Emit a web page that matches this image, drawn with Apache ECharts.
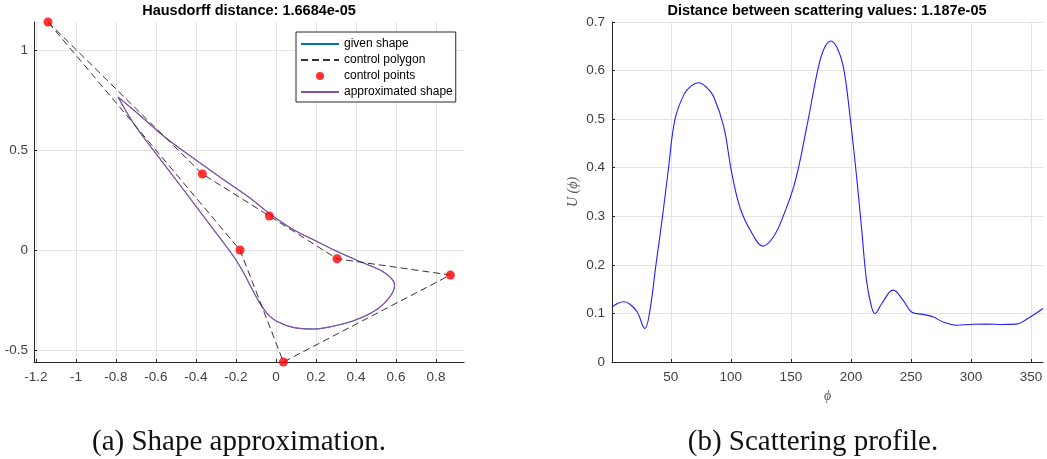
<!DOCTYPE html>
<html><head><meta charset="utf-8">
<script src="https://cdn.jsdelivr.net/npm/echarts@6/dist/echarts.min.js"></script>
<style>html,body{margin:0;padding:0;background:#fff}#c{width:1047px;height:459px}</style>
</head><body><div id="c"></div>
<script>
// ---- Left panel data: shape approximation ----
const shapeX = [-0.79, -0.70, -0.55, -0.40, -0.26, -0.13, -0.03, 0.09, 0.20, 0.29, 0.42, 0.52, 0.575, 0.593, 0.57, 0.50, 0.39, 0.29, 0.19, 0.09, 0.003, -0.04, -0.08, -0.12, -0.16, -0.20, -0.25, -0.315, -0.38, -0.45, -0.58, -0.71, -0.79];
const shapeY = [0.765, 0.69, 0.56, 0.45, 0.35, 0.26, 0.18, 0.10, 0.045, 0.0, -0.058, -0.10, -0.14, -0.175, -0.233, -0.30, -0.353, -0.38, -0.395, -0.388, -0.356, -0.322, -0.267, -0.195, -0.118, -0.05, 0.02, 0.106, 0.192, 0.285, 0.456, 0.63, 0.765];
const ctrlX = [-1.14, -0.368, -0.033, 0.305, 0.872, 0.037, -0.18];
const ctrlY = [1.14, 0.38, 0.17, -0.044, -0.125, -0.56, 0.0];
const polygonOrder = [0, 1, 2, 3, 4, 5, 6, 0];
const leftXTicks = [-1.2, -1, -0.8, -0.6, -0.4, -0.2, 0, 0.2, 0.4, 0.6, 0.8];
const leftYTicks = [-0.5, 0, 0.5, 1];
const legendNames = ['given shape', 'control polygon', 'control points', 'approximated shape'];

// ---- Right panel data: scattering profile ----
const phi = [1, 6, 11, 16, 22, 28.4, 32.2, 37.6, 43.1, 48.1, 53.5, 61, 67, 73, 80, 85.7, 94, 100.7, 108, 117.6, 126.7, 135.5, 143.9, 153.6, 163.3, 173, 178, 183.2, 188.5, 193.7, 199.3, 204.8, 209, 213, 217, 220, 225.6, 235.2, 243.5, 250.5, 260, 268.4, 276.7, 287.8, 301.7, 312.8, 326.6, 337.7, 346, 360];
const U = [0.113, 0.121, 0.124, 0.119, 0.103, 0.069, 0.1, 0.2, 0.3, 0.4, 0.5, 0.551, 0.5685, 0.575, 0.565, 0.546, 0.485, 0.39, 0.315, 0.265, 0.2385, 0.258, 0.302, 0.372, 0.485, 0.608, 0.647, 0.661, 0.647, 0.608, 0.505, 0.38, 0.272, 0.168, 0.115, 0.0997, 0.12, 0.148, 0.127, 0.103, 0.098, 0.093, 0.0825, 0.0757, 0.0777, 0.078, 0.0772, 0.078, 0.0874, 0.110];
const rightXTicks = [50, 100, 150, 200, 250, 300, 350];

const titles = ['Hausdorff distance: 1.6684e-05', 'Distance between scattering values: 1.187e-05'];
const captions = ['(a) Shape approximation.', '(b) Scattering profile.'];

const shapeData = shapeX.map((x, i) => [x, shapeY[i]]);
const polygonData = polygonOrder.map(i => [ctrlX[i], ctrlY[i]]);
const pointData = ctrlX.map((x, i) => [x, ctrlY[i]]);
const profileData = phi.map((p, i) => [p, U[i]]);

const axisColor = '#262626';
const labelColor = '#404040';
const gridColor = '#e3e3e3';
const sans = 'Liberation Sans, Arial, sans-serif';
const tickFont = { color: labelColor, fontSize: 13.5, fontFamily: sans };

function makeAxis(gridIndex, min, max, ticks, margin, extra) {
  return Object.assign({
    type: 'value', gridIndex, min, max,
    axisLine: { show: true, onZero: false, lineStyle: { color: axisColor, width: 1 } },
    axisTick: { show: true, inside: true, length: 3, lineStyle: { color: axisColor }, customValues: ticks },
    axisLabel: Object.assign({ customValues: ticks, margin }, tickFont),
    splitLine: { show: true, lineStyle: { color: gridColor, width: 1 } }
  }, extra || {});
}

const hiddenSymbol = { color: 'rgba(0,0,0,0)', borderWidth: 0, borderColor: 'rgba(0,0,0,0)' };

const chart = echarts.init(document.getElementById('c'), null, { renderer: 'canvas' });
chart.setOption({
  animation: false,
  backgroundColor: '#fff',
  title: [
    { text: titles[0], left: 249, top: 3, textAlign: 'center', padding: 0,
      textStyle: { fontSize: 14.5, fontWeight: 'bold', color: '#000', fontFamily: sans } },
    { text: titles[1], left: 827, top: 3, textAlign: 'center', padding: 0,
      textStyle: { fontSize: 14.5, fontWeight: 'bold', color: '#000', fontFamily: sans } }
  ],
  grid: [
    { left: 34, top: 22, width: 430, height: 340, containLabel: false },
    { left: 612, top: 22, width: 431, height: 340, containLabel: false }
  ],
  xAxis: [
    makeAxis(0, -1.21, 0.94, leftXTicks, 8),
    makeAxis(1, 1, 360, rightXTicks, 8, {
      name: 'ϕ', nameLocation: 'middle', nameGap: 25,
      nameTextStyle: { fontFamily: 'Liberation Serif, serif', fontStyle: 'italic', fontSize: 14, color: '#555' }
    })
  ],
  yAxis: [
    makeAxis(0, -0.56, 1.14, leftYTicks, 6),
    Object.assign(makeAxis(1, 0, 0.7, null, 7), {
      interval: 0.1,
      axisTick: { show: true, inside: true, length: 3, lineStyle: { color: axisColor } },
      axisLabel: Object.assign({ margin: 7 }, tickFont),
      name: 'U (ϕ)', nameLocation: 'middle', nameGap: 32, nameRotate: 90,
      nameTextStyle: { fontFamily: 'Liberation Serif, serif', fontStyle: 'italic', fontSize: 14, color: '#555' }
    })
  ],
  legend: {
    left: 296, top: 32, orient: 'vertical',
    data: [
      { name: legendNames[0], itemStyle: hiddenSymbol },
      { name: legendNames[1], itemStyle: hiddenSymbol },
      { name: legendNames[2] },
      { name: legendNames[3], itemStyle: hiddenSymbol }
    ],
    itemWidth: 38, itemHeight: 8, itemGap: 2,
    padding: [5, 3, 3, 4],
    backgroundColor: '#fff', borderColor: '#262626', borderWidth: 1, borderRadius: 0,
    textStyle: { fontSize: 12, lineHeight: 14, color: '#000', fontFamily: sans },
    selectedMode: false
  },
  series: [
    { name: legendNames[0], type: 'line', xAxisIndex: 0, yAxisIndex: 0, data: shapeData,
      symbol: 'none', smooth: 0.35, lineStyle: { color: '#0072BD', width: 1 }, itemStyle: { color: '#0072BD' }, z: 2 },
    { name: legendNames[1], type: 'line', xAxisIndex: 0, yAxisIndex: 0, data: polygonData,
      symbol: 'none', lineStyle: { color: '#333', width: 1, type: [7, 4] }, itemStyle: { color: '#333' }, z: 4 },
    { name: legendNames[2], type: 'scatter', xAxisIndex: 0, yAxisIndex: 0, data: pointData,
      symbol: 'circle', symbolSize: 9, itemStyle: { color: '#ff0000' }, z: 5 },
    { name: legendNames[3], type: 'line', xAxisIndex: 0, yAxisIndex: 0, data: shapeData,
      symbol: 'none', smooth: 0.35, lineStyle: { color: '#8e4fa3', width: 1.1 }, itemStyle: { color: '#8e4fa3' }, z: 3 },
    { name: 'U', type: 'line', xAxisIndex: 1, yAxisIndex: 1, data: profileData,
      symbol: 'none', smooth: 0.4, lineStyle: { color: '#1f1fff', width: 1.1 }, itemStyle: { color: '#1f1fff' } }
  ],
  graphic: [
    { type: 'text', x: 239, y: 442, style: { text: captions[0], font: '29px "Liberation Serif", serif', fill: '#111', align: 'center', verticalAlign: 'middle' } },
    { type: 'text', x: 813, y: 442, style: { text: captions[1], font: '29px "Liberation Serif", serif', fill: '#111', align: 'center', verticalAlign: 'middle' } }
  ]
});
</script>
</body></html>
